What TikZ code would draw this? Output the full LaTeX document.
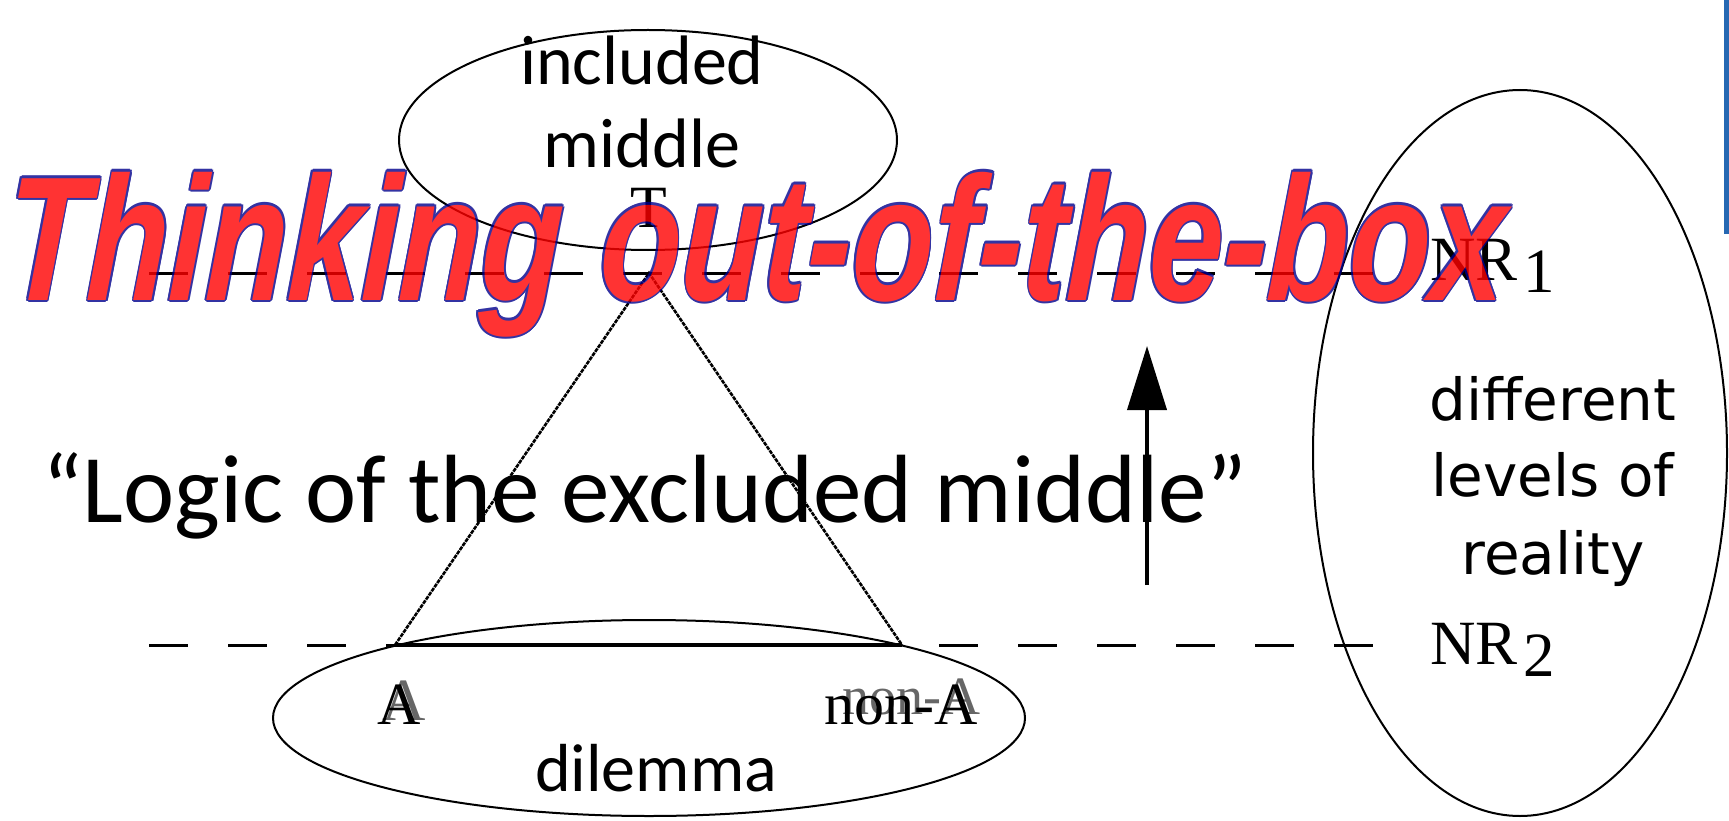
\documentclass[tikz,border=0pt]{standalone}
\usepackage{fontspec}
\setmainfont{Carlito}
\newfontfamily\boxfont{Liberation Sans}
\newfontfamily\nrfont{Liberation Serif}
\newfontfamily\levfont{DejaVu Sans}
\usetikzlibrary{arrows.meta}
\definecolor{boxred}{RGB}{255,0,0}
\definecolor{boxnavy}{RGB}{0,0,140}
\definecolor{barblue}{RGB}{38,104,178}
\newcommand{\nrsub}[1]{NR\hspace{6pt}\raisebox{-12pt}{#1}}
\tikzset{
  oval/.style={line width=2pt},
  levelline/.style={line width=3pt, dash pattern=on 39pt off 40pt},
  side/.style={line width=2.6pt, dash pattern=on 4pt off 1pt},
  word/.style={anchor=base, inner sep=0pt, font=\fontsize{70}{80}\selectfont},
  serif/.style={anchor=base, inner sep=0pt, font=\nrfont\fontsize{60}{70}\selectfont},
  nrlabel/.style={anchor=base west, inner sep=0pt, font=\nrfont\fontsize{63}{70}\selectfont},
  levword/.style={anchor=base, inner sep=0pt, font=\levfont\fontsize{58}{66}\selectfont},
  boxtitle/.style={anchor=base west, inner sep=0pt, xscale=0.755, xslant=0.06,
    font=\boxfont\bfseries\itshape\fontsize{177}{200}\selectfont}
}
\begin{document}
\begin{tikzpicture}[x=1pt, y=-1pt]
  \useasboundingbox (0,0) rectangle (1729,821);
  % ovals
  \draw[oval] (648,140) ellipse [x radius=249pt, y radius=110pt];
  \draw[oval] (649,718) ellipse [x radius=376pt, y radius=98pt];
  \draw[oval] (1520,453) ellipse [x radius=207pt, y radius=363pt];
  % levels of reality
  \coordinate (nr1l) at (149,273);
  \coordinate (nr1r) at (1378,273);
  \coordinate (nr2l) at (149,645);
  \coordinate (nr2r) at (1378,645);
  \draw[levelline] (nr1l) -- (nr1r);
  \draw[levelline] (nr2l) -- (nr2r);
  % triangle
  \coordinate (apex) at (649,273);
  \coordinate (vA) at (395,645);
  \coordinate (vnA) at (902,645);
  \draw[side] (vA) -- (apex) -- (vnA);
  \draw[line width=3.5pt] (vA) -- (vnA);
  % arrow
  \coordinate (up0) at (1147,585);
  \coordinate (up1) at (1147,346);
  \draw[line width=4pt, -{Triangle[length=64pt, width=39pt]}] (up0) -- (up1);
  % texts
  \node[word] (incl) at (642,85) {included};
  \node[word] (mid) at (642,168) {middle};
  \node[word, font=\fontsize{68}{80}\selectfont] (dil) at (656,791) {dilemma};
  \node[serif] (T) at (649,228) {T};
  \node[serif, opacity=0.6] (A2) at (404,720) {A};
  \node[serif] (A) at (399,724) {A};
  \node[serif, opacity=0.6, scale=0.9] (nA2) at (911,714) {non-A};
  \node[serif] (nA) at (901,724) {non-A};
  \node[nrlabel] (nr1) at (1430,280) {\nrsub{1}};
  \node[nrlabel] (nr2) at (1430,664) {\nrsub{2}};
  \node[levword] (diff) at (1553,420) {different};
  \node[levword] (lev) at (1553,496) {levels of};
  \node[levword] (real) at (1553,574) {reality};
  \node[anchor=base west, inner sep=0pt, font=\fontsize{97}{110}\selectfont] (logic) at (42,522)
    {“Logic of the excluded middle”};
  % title
  \begin{scope}[transparency group, opacity=0.8]
    \foreach \a in {0,30,...,330}
      \node[boxtitle, text=boxnavy, shift={(\a:2.2pt)}] (edge\a) at (4,300) {Thinking out-of-the-box};
    \node[boxtitle, text=boxred] (thinking) at (4,300) {Thinking out-of-the-box};
  \end{scope}
  \fill[barblue] (1724,0) rectangle (1729,234);
\end{tikzpicture}
\end{document}
